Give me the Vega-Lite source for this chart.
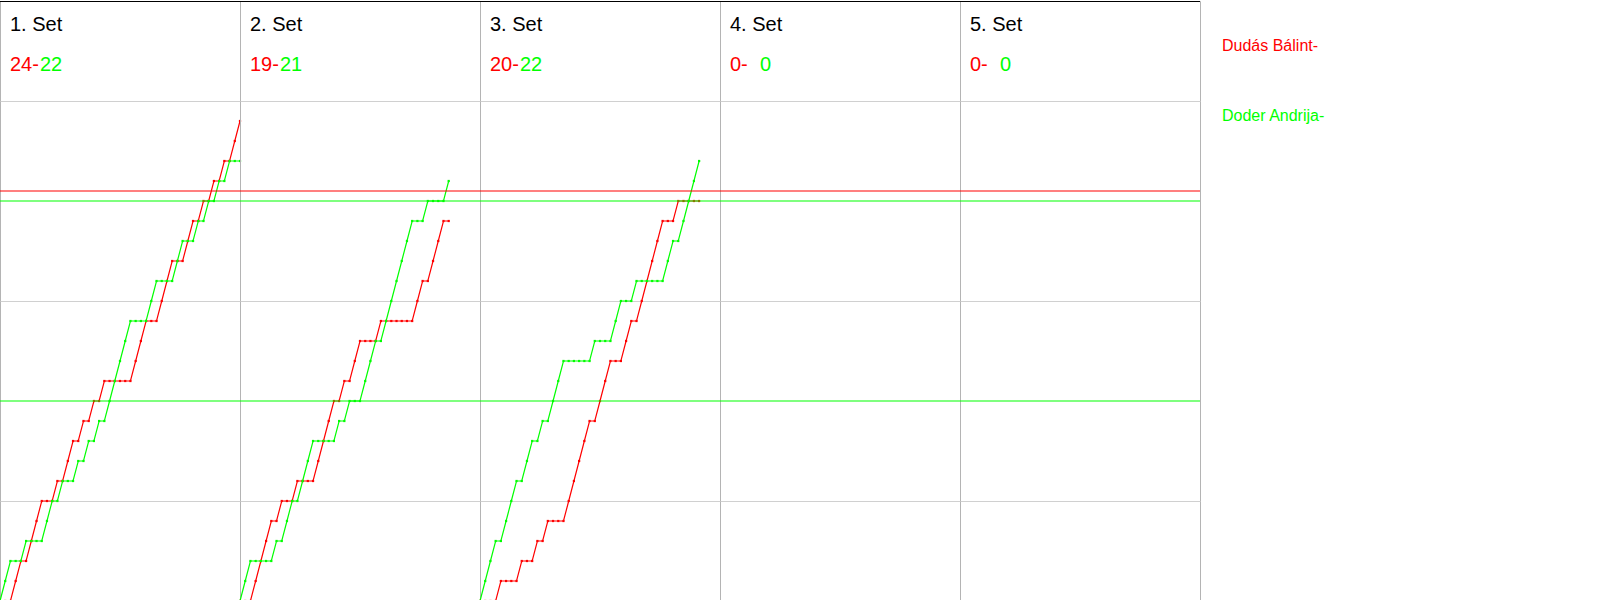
{
  "$schema": "https://vega.github.io/schema/vega-lite/v6.json",
  "padding": {"left": -3, "top": 0, "right": 0, "bottom": 0},
  "spacing": 0,
  "config": {"view": {"stroke": null}, "font": "Liberation Sans"},
  "resolve": {"scale": {"x": "independent", "y": "independent", "color": "shared"}},
  "datasets": {
    "match": [
      {"set":1,"hdr":true,"title":"1. Set","red":24,"green":22},
      {"set":2,"hdr":true,"title":"2. Set","red":19,"green":21},
      {"set":3,"hdr":true,"title":"3. Set","red":20,"green":22},
      {"set":4,"hdr":true,"title":"4. Set","red":0,"green":0},
      {"set":5,"hdr":true,"title":"5. Set","red":0,"green":0},
      {"set":1,"k":0,"r":0,"g":0},{"set":1,"k":1,"r":0,"g":1},{"set":1,"k":2,"r":0,"g":2},{"set":1,"k":3,"r":1,"g":2},
      {"set":1,"k":4,"r":2,"g":2},{"set":1,"k":5,"r":2,"g":3},{"set":1,"k":6,"r":3,"g":3},{"set":1,"k":7,"r":4,"g":3},
      {"set":1,"k":8,"r":5,"g":3},{"set":1,"k":9,"r":5,"g":4},{"set":1,"k":10,"r":5,"g":5},{"set":1,"k":11,"r":6,"g":5},
      {"set":1,"k":12,"r":6,"g":6},{"set":1,"k":13,"r":7,"g":6},{"set":1,"k":14,"r":8,"g":6},{"set":1,"k":15,"r":8,"g":7},
      {"set":1,"k":16,"r":9,"g":7},{"set":1,"k":17,"r":9,"g":8},{"set":1,"k":18,"r":10,"g":8},{"set":1,"k":19,"r":10,"g":9},
      {"set":1,"k":20,"r":11,"g":9},{"set":1,"k":21,"r":11,"g":10},{"set":1,"k":22,"r":11,"g":11},{"set":1,"k":23,"r":11,"g":12},
      {"set":1,"k":24,"r":11,"g":13},{"set":1,"k":25,"r":11,"g":14},{"set":1,"k":26,"r":12,"g":14},{"set":1,"k":27,"r":13,"g":14},
      {"set":1,"k":28,"r":14,"g":14},{"set":1,"k":29,"r":14,"g":15},{"set":1,"k":30,"r":14,"g":16},{"set":1,"k":31,"r":15,"g":16},
      {"set":1,"k":32,"r":16,"g":16},{"set":1,"k":33,"r":17,"g":16},{"set":1,"k":34,"r":17,"g":17},{"set":1,"k":35,"r":17,"g":18},
      {"set":1,"k":36,"r":18,"g":18},{"set":1,"k":37,"r":19,"g":18},{"set":1,"k":38,"r":19,"g":19},{"set":1,"k":39,"r":20,"g":19},
      {"set":1,"k":40,"r":20,"g":20},{"set":1,"k":41,"r":21,"g":20},{"set":1,"k":42,"r":21,"g":21},{"set":1,"k":43,"r":22,"g":21},
      {"set":1,"k":44,"r":22,"g":22},{"set":1,"k":45,"r":23,"g":22},{"set":1,"k":46,"r":24,"g":22},
      {"set":2,"k":0,"r":0,"g":0},{"set":2,"k":1,"r":0,"g":1},{"set":2,"k":2,"r":0,"g":2},{"set":2,"k":3,"r":1,"g":2},
      {"set":2,"k":4,"r":2,"g":2},{"set":2,"k":5,"r":3,"g":2},{"set":2,"k":6,"r":4,"g":2},{"set":2,"k":7,"r":4,"g":3},
      {"set":2,"k":8,"r":5,"g":3},{"set":2,"k":9,"r":5,"g":4},{"set":2,"k":10,"r":5,"g":5},{"set":2,"k":11,"r":6,"g":5},
      {"set":2,"k":12,"r":6,"g":6},{"set":2,"k":13,"r":6,"g":7},{"set":2,"k":14,"r":6,"g":8},{"set":2,"k":15,"r":7,"g":8},
      {"set":2,"k":16,"r":8,"g":8},{"set":2,"k":17,"r":9,"g":8},{"set":2,"k":18,"r":10,"g":8},{"set":2,"k":19,"r":10,"g":9},
      {"set":2,"k":20,"r":11,"g":9},{"set":2,"k":21,"r":11,"g":10},{"set":2,"k":22,"r":12,"g":10},{"set":2,"k":23,"r":13,"g":10},
      {"set":2,"k":24,"r":13,"g":11},{"set":2,"k":25,"r":13,"g":12},{"set":2,"k":26,"r":13,"g":13},{"set":2,"k":27,"r":14,"g":13},
      {"set":2,"k":28,"r":14,"g":14},{"set":2,"k":29,"r":14,"g":15},{"set":2,"k":30,"r":14,"g":16},{"set":2,"k":31,"r":14,"g":17},
      {"set":2,"k":32,"r":14,"g":18},{"set":2,"k":33,"r":14,"g":19},{"set":2,"k":34,"r":15,"g":19},{"set":2,"k":35,"r":16,"g":19},
      {"set":2,"k":36,"r":16,"g":20},{"set":2,"k":37,"r":17,"g":20},{"set":2,"k":38,"r":18,"g":20},{"set":2,"k":39,"r":19,"g":20},
      {"set":2,"k":40,"r":19,"g":21},
      {"set":3,"k":0,"r":0,"g":0},{"set":3,"k":1,"r":0,"g":1},{"set":3,"k":2,"r":0,"g":2},{"set":3,"k":3,"r":0,"g":3},
      {"set":3,"k":4,"r":1,"g":3},{"set":3,"k":5,"r":1,"g":4},{"set":3,"k":6,"r":1,"g":5},{"set":3,"k":7,"r":1,"g":6},
      {"set":3,"k":8,"r":2,"g":6},{"set":3,"k":9,"r":2,"g":7},{"set":3,"k":10,"r":2,"g":8},{"set":3,"k":11,"r":3,"g":8},
      {"set":3,"k":12,"r":3,"g":9},{"set":3,"k":13,"r":4,"g":9},{"set":3,"k":14,"r":4,"g":10},{"set":3,"k":15,"r":4,"g":11},
      {"set":3,"k":16,"r":4,"g":12},{"set":3,"k":17,"r":5,"g":12},{"set":3,"k":18,"r":6,"g":12},{"set":3,"k":19,"r":7,"g":12},
      {"set":3,"k":20,"r":8,"g":12},{"set":3,"k":21,"r":9,"g":12},{"set":3,"k":22,"r":9,"g":13},{"set":3,"k":23,"r":10,"g":13},
      {"set":3,"k":24,"r":11,"g":13},{"set":3,"k":25,"r":12,"g":13},{"set":3,"k":26,"r":12,"g":14},{"set":3,"k":27,"r":12,"g":15},
      {"set":3,"k":28,"r":13,"g":15},{"set":3,"k":29,"r":14,"g":15},{"set":3,"k":30,"r":14,"g":16},{"set":3,"k":31,"r":15,"g":16},
      {"set":3,"k":32,"r":16,"g":16},{"set":3,"k":33,"r":17,"g":16},{"set":3,"k":34,"r":18,"g":16},{"set":3,"k":35,"r":19,"g":16},
      {"set":3,"k":36,"r":19,"g":17},{"set":3,"k":37,"r":19,"g":18},{"set":3,"k":38,"r":20,"g":18},{"set":3,"k":39,"r":20,"g":19},
      {"set":3,"k":40,"r":20,"g":20},{"set":3,"k":41,"r":20,"g":21},{"set":3,"k":42,"r":20,"g":22}
    ],
    "names": [
      {"player":"r","name":"Dudás Bálint","rank":1},
      {"player":"g","name":"Doder Andrija","rank":2}
    ]
  },
  "hconcat": [
    {
      "data": {"name": "match"},
      "facet": {"column": {"field": "set", "type": "ordinal", "header": {"title": null, "labels": false}}},
      "spacing": 0,
      "bounds": "flush",
      "spec": {
        "width": 240,
        "height": 600,
        "view": {"stroke": "#b4b4b4", "strokeWidth": 1},
        "layer": [
          {
            "transform": [{"filter": "!datum.hdr"}, {"fold": ["r", "g"], "as": ["player", "score"]}],
            "mark": {"type": "line", "strokeWidth": 1.2},
            "encoding": {
              "x": {"field": "k", "type": "quantitative", "scale": {"domain": [0, 46], "nice": false, "zero": false}, "axis": null},
              "y": {"field": "score", "type": "quantitative", "scale": {"domain": [0, 30], "nice": false},
                    "axis": {"orient": "right", "grid": true, "values": [5, 15, 25], "labels": false, "ticks": false, "tickSize": 0, "labelPadding": 0, "offset": 0, "domain": false, "title": null, "gridColor": "#d0d0d0", "gridWidth": 1, "minExtent": 0, "maxExtent": 0, "zindex": 0}},
              "color": {"field": "player", "type": "nominal", "scale": {"domain": ["r", "g"], "range": ["#ff0000", "#00ff00"]}, "legend": null}
            }
          },
          {
            "transform": [{"filter": "!datum.hdr"}, {"fold": ["r", "g"], "as": ["player", "score"]}],
            "mark": {"type": "square", "size": 5, "filled": true, "opacity": 1},
            "encoding": {
              "x": {"field": "k", "type": "quantitative"},
              "y": {"field": "score", "type": "quantitative"},
              "color": {"field": "player", "type": "nominal", "legend": null}
            }
          },
          {
            "transform": [{"filter": "datum.hdr === true"}],
            "mark": {"type": "rule", "color": "#ff0000", "strokeWidth": 1.2},
            "encoding": {"y": {"datum": 20.5, "type": "quantitative"}}
          },
          {
            "transform": [{"filter": "datum.hdr === true"}],
            "mark": {"type": "rule", "color": "#00ff00", "strokeWidth": 1.2},
            "encoding": {"y": {"datum": 20, "type": "quantitative"}}
          },
          {
            "transform": [{"filter": "datum.hdr === true"}],
            "mark": {"type": "rule", "color": "#00ff00", "strokeWidth": 1.2},
            "encoding": {"y": {"datum": 10, "type": "quantitative"}}
          },
          {
            "transform": [{"filter": "datum.hdr === true"}],
            "mark": {"type": "rule", "color": "#000000", "strokeWidth": 1},
            "encoding": {"y": {"datum": 29.975, "type": "quantitative"}}
          },
          {
            "transform": [{"filter": "datum.hdr === true"}],
            "mark": {"type": "text", "align": "left", "baseline": "alphabetic", "fontSize": 20, "dx": 10, "color": "#000000"},
            "encoding": {
              "x": {"datum": 0, "type": "quantitative"},
              "y": {"datum": 28.5, "type": "quantitative"},
              "text": {"field": "title"}
            }
          },
          {
            "transform": [{"filter": "datum.hdr === true"}, {"calculate": "datum.red + '-'", "as": "redLabel"}],
            "mark": {"type": "text", "align": "left", "baseline": "alphabetic", "fontSize": 20, "dx": 10, "color": "#ff0000"},
            "encoding": {
              "x": {"datum": 0, "type": "quantitative"},
              "y": {"datum": 26.5, "type": "quantitative"},
              "text": {"field": "redLabel"}
            }
          },
          {
            "transform": [{"filter": "datum.hdr === true"}],
            "mark": {"type": "text", "align": "left", "baseline": "alphabetic", "fontSize": 20, "dx": 40, "color": "#00ff00"},
            "encoding": {
              "x": {"datum": 0, "type": "quantitative"},
              "y": {"datum": 26.5, "type": "quantitative"},
              "text": {"field": "green"}
            }
          }
        ]
      }
    },
    {
      "data": {"name": "names"},
      "width": 400,
      "height": 600,
      "transform": [{"calculate": "datum.name + '-'", "as": "label"}],
      "mark": {"type": "text", "align": "left", "baseline": "alphabetic", "fontSize": 16, "dx": 20},
      "encoding": {
        "x": {"datum": 0, "type": "quantitative", "scale": {"domain": [0, 1]}, "axis": null},
        "y": {"field": "rank", "type": "quantitative", "scale": {"domain": [0.2857, 8.857], "reverse": true, "nice": false, "zero": false}, "axis": null},
        "text": {"field": "label"},
        "color": {"field": "player", "type": "nominal", "legend": null}
      }
    }
  ]
}
